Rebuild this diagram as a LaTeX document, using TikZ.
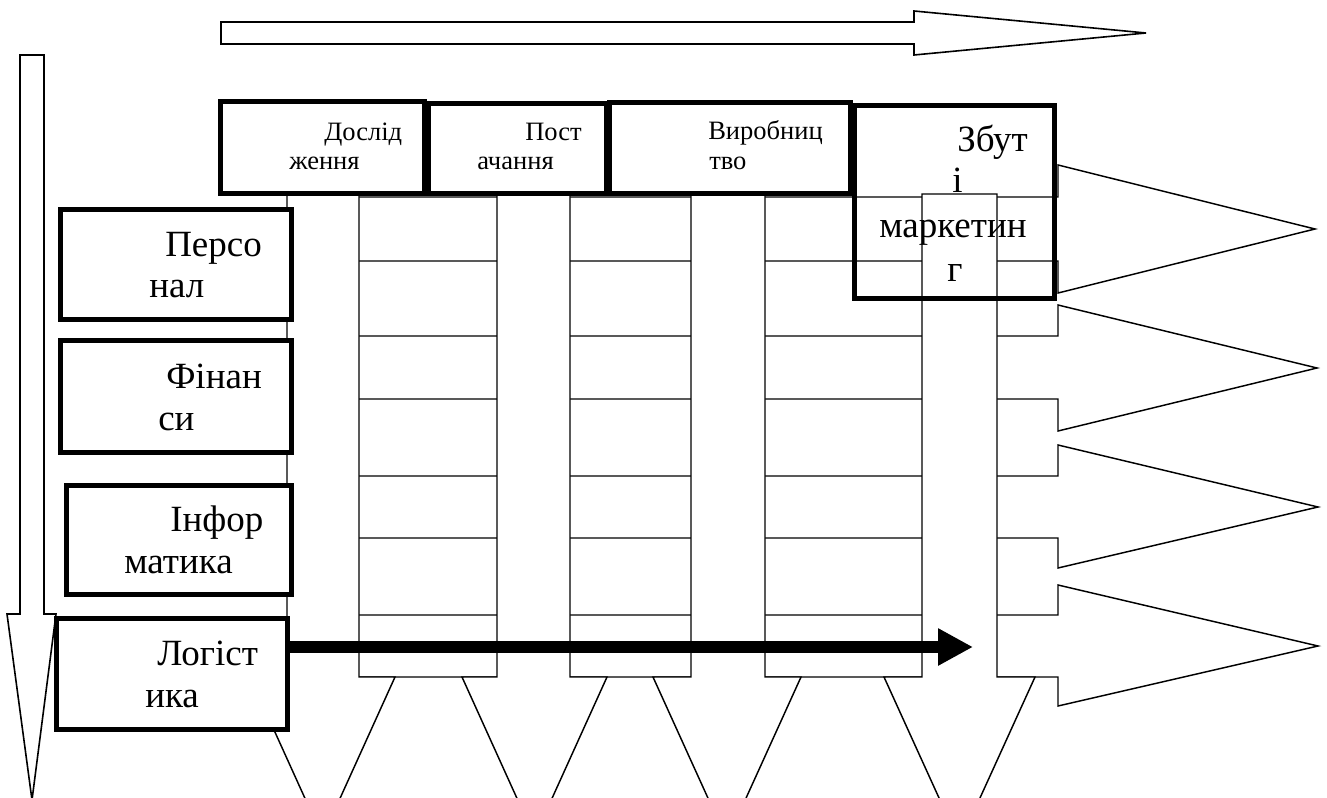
\documentclass[tikz,border=0pt]{standalone}
\usepackage{fontspec}
\setmainfont{Liberation Serif}
\usetikzlibrary{arrows.meta}
\begin{document}
\begin{tikzpicture}[x=0.75pt,y=-0.75pt,
  blockarrow/.style={draw=black,line width=1.1pt,fill=white,line join=miter},
  hollowarrow/.style={draw=black,line width=1.2pt,fill=white,line join=miter},
  thickbox/.style={draw=black,line width=3.75pt,fill=white,inner sep=0pt,line join=miter},
  openbox/.style={draw=black,line width=3.75pt,inner sep=0pt,line join=miter},
  bigtxt/.style={font=\fontsize{27.75pt}{31pt}\selectfont,inner sep=0pt,anchor=base west},
  smalltxt/.style={font=\fontsize{19.9pt}{22pt}\selectfont,inner sep=0pt,anchor=base west},
  flow/.style={line width=8.75pt,-{Triangle[length=26.25pt,width=26.25pt]}}]
\clip (0,0) rectangle (1327,798);
\fill[white] (0,0) rectangle (1327,798);
% big direction arrows
\draw[hollowarrow] (221,22) -- (914,22) -- (914,11) -- (1146,33) -- (914,55) -- (914,44) -- (221,44) -- cycle;
\draw[hollowarrow] (20,55) -- (44,55) -- (44,614) -- (56,614) -- (32,800) -- (7,614) -- (20,614) -- cycle;
% horizontal row arrows
\draw[blockarrow] (295,197) -- (1058,197) -- (1058,165) -- (1315,229) -- (1058,293) -- (1058,261) -- (295,261) -- cycle;
\draw[blockarrow] (295,336) -- (1058,336) -- (1058,305) -- (1317,368) -- (1058,431) -- (1058,399) -- (295,399) -- cycle;
\draw[blockarrow] (295,476) -- (1058,476) -- (1058,445) -- (1318,507) -- (1058,568) -- (1058,538) -- (295,538) -- cycle;
\draw[blockarrow] (295,615) -- (1058,615) -- (1058,585) -- (1318,646) -- (1058,706) -- (1058,677) -- (295,677) -- cycle;
% vertical column arrows
\draw[blockarrow] (287,194) -- (359,194) -- (359,677) -- (395,677) -- (322.5,837) -- (250,677) -- (287,677) -- cycle;
\draw[blockarrow] (497,194) -- (570,194) -- (570,677) -- (607,677) -- (534.5,837) -- (462,677) -- (497,677) -- cycle;
\draw[blockarrow] (691,194) -- (765,194) -- (765,677) -- (801,677) -- (727,840) -- (653,677) -- (691,677) -- cycle;
\draw[blockarrow] (922,194) -- (997,194) -- (997,677) -- (1035,677) -- (959.5,843) -- (884,677) -- (922,677) -- cycle;
% top boxes
\node[thickbox,minimum width=153pt,minimum height=69pt] (dosl) at (322,148) {};
\node[thickbox,minimum width=133.5pt,minimum height=67.5pt] (post) at (517,149) {};
\node[thickbox,minimum width=180.75pt,minimum height=68.25pt] (vyrob) at (729.5,148.5) {};
\node[openbox,minimum width=150pt,minimum height=144.75pt] (zbut) at (954,202.5) {};
% row boxes
\node[thickbox,minimum width=173.25pt,minimum height=82.5pt] (pers) at (175.5,265) {};
\node[thickbox,minimum width=173.25pt,minimum height=83.25pt] (fin) at (175.5,396.5) {};
\node[thickbox,minimum width=168.75pt,minimum height=81.75pt] (inf) at (178.5,539.5) {};
\node[thickbox,minimum width=173.25pt,minimum height=83.25pt] (logi) at (171.5,673.5) {};
% logistics flow arrow
\coordinate (flowend) at (973,647);
\draw[flow] (logi.east |- flowend) -- (flowend);
% texts
\node[smalltxt] (dosl1) at (324,141) {Дослід};
\node[smalltxt] (dosl2) at (289,170) {ження};
\node[smalltxt] (post1) at (525,141) {Пост};
\node[smalltxt] (post2) at (477,170) {ачання};
\node[smalltxt] (vyrob1) at (708,140) {Виробниц};
\node[smalltxt] (vyrob2) at (709,170) {тво};
\node[bigtxt] (zbut1) at (957,152) {Збут};
\node[bigtxt] (zbut2) at (952,193) {і};
\node[bigtxt] (zbut3) at (879,238) {маркетин};
\node[bigtxt] (zbut4) at (947,282) {г};
\node[bigtxt] (pers1) at (165,257) {Персо};
\node[bigtxt] (pers2) at (149,298) {нал};
\node[bigtxt] (fin1) at (166,388) {Фінан};
\node[bigtxt] (fin2) at (158,430) {си};
\node[bigtxt] (inf1) at (170,531) {Інфор};
\node[bigtxt] (inf2) at (124,573) {матика};
\node[bigtxt] (logi1) at (157,665) {Логіст};
\node[bigtxt] (logi2) at (145,707) {ика};
\end{tikzpicture}
\end{document}
